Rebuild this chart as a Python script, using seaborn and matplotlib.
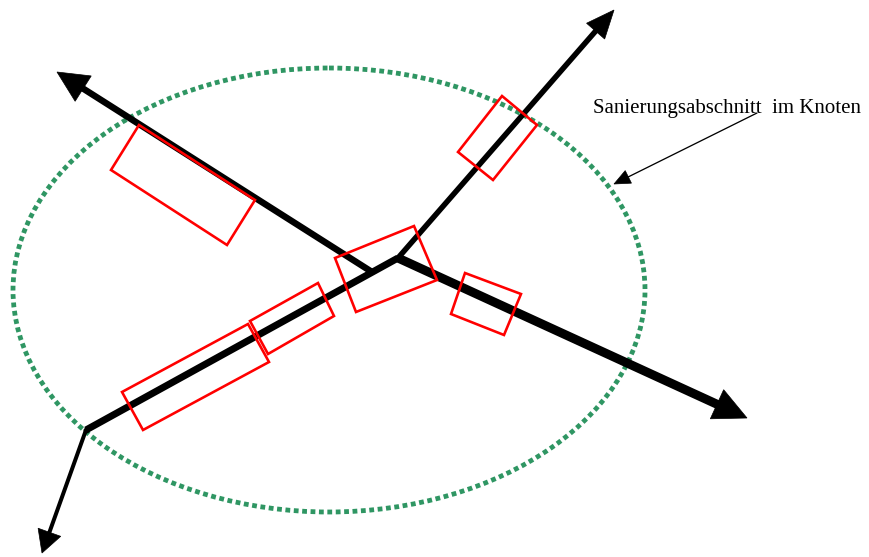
import matplotlib
matplotlib.use("Agg")
import matplotlib.pyplot as plt
from matplotlib.patches import Ellipse, Polygon
import seaborn as sns
import pandas as pd

sns.set_theme(style="white")
plt.rcParams['font.family'] = ['Liberation Serif', 'DejaVu Serif']

# ---- diagram data (pixel coordinates, y downwards) ----
line_names = ["nw", "se", "sw_ne", "ne", "sw_leg"]
line_x0 = [372, 398, 398, 398, 86]
line_y0 = [272, 258, 258, 258, 430]
line_x1 = [57, 747, 86, 614, 42]
line_y1 = [72, 418, 430, 10, 553]
line_w = [6.5, 9, 7, 5.5, 4]
head_len = [31, 33, 0, 28, 22]
head_halfw = [15, 16, 0, 12, 12]

# ellipse "Sanierungsabschnitt"
ell_cx, ell_cy, ell_w, ell_h = 329, 290, 632, 444

# red rectangles (corner coordinates)
rect_x = [[139, 255, 227, 111],
          [502, 537, 493, 458],
          [335, 414, 437, 356],
          [465, 521, 504, 451],
          [250, 318, 334, 268],
          [122, 248, 269, 143]]
rect_y = [[125, 200, 245, 170],
          [96, 125, 180, 152],
          [258, 226, 280, 312],
          [273, 294, 335, 314],
          [321, 283, 316, 354],
          [392, 324, 362, 430]]

label_text = "Sanierungsabschnitt  im Knoten"
label_xy = (593, 113)
pointer_from = (757, 113)
pointer_to = (614, 184)
pointer_head_len, pointer_head_halfw = 16, 7

PX = 0.72  # points per pixel at dpi=100

fig = plt.figure(figsize=(8.69, 5.57), dpi=100)
ax = fig.add_axes([0, 0, 1, 1])
ax.set_xlim(0, 869)
ax.set_ylim(557, 0)
ax.axis("off")


def head(x0, y0, x1, y1, hl, hw):
    dx, dy = x1 - x0, y1 - y0
    L = (dx ** 2 + dy ** 2) ** 0.5
    ux, uy = dx / L, dy / L
    bx, by = x1 - ux * hl, y1 - uy * hl
    nx, ny = -uy, ux
    tri = [(x1, y1), (bx + nx * hw, by + ny * hw), (bx - nx * hw, by - ny * hw)]
    return (bx + ux, by + uy), tri


# ellipse
ax.add_patch(Ellipse((ell_cx, ell_cy), ell_w, ell_h, fill=False,
                     edgecolor="#2F9663", linewidth=4.8 * PX,
                     linestyle=(0, (1, 0.75)), zorder=1))

# lines via seaborn
for i, n in enumerate(line_names):
    ex, ey = line_x1[i], line_y1[i]
    if head_len[i] > 0:
        (ex, ey), tri = head(line_x0[i], line_y0[i], line_x1[i], line_y1[i],
                             head_len[i], head_halfw[i])
        ax.add_patch(Polygon(tri, closed=True, facecolor="black",
                             edgecolor="black", linewidth=0.5, zorder=4))
    df = pd.DataFrame({"x": [line_x0[i], ex], "y": [line_y0[i], ey]})
    sns.lineplot(data=df, x="x", y="y", sort=False, color="black",
                 linewidth=line_w[i] * PX, ax=ax, zorder=3,
                 solid_capstyle="butt", solid_joinstyle="round")

# junction round-off
ax.plot([398], [258], marker="o", color="black", markersize=5.5 * PX, zorder=3)
ax.plot([86], [430], marker="o", color="black", markersize=4.5 * PX, zorder=3)

# red rectangles
for xs, ys in zip(rect_x, rect_y):
    ax.add_patch(Polygon(list(zip(xs, ys)), closed=True, fill=False,
                         edgecolor="#FF0000", linewidth=2.6 * PX, zorder=5))

# label + pointer
ax.text(label_xy[0], label_xy[1], label_text, fontsize=15, color="black",
        ha="left", va="baseline", zorder=6)
(pex, pey), ptri = head(pointer_from[0], pointer_from[1], pointer_to[0], pointer_to[1],
                        pointer_head_len, pointer_head_halfw)
ax.plot([pointer_from[0], pex], [pointer_from[1], pey], color="black",
        linewidth=1.3 * PX, zorder=6)
ax.add_patch(Polygon(ptri, closed=True, facecolor="black", edgecolor="black",
                     linewidth=0.5, zorder=6))

fig.savefig("out.png", dpi=100)
